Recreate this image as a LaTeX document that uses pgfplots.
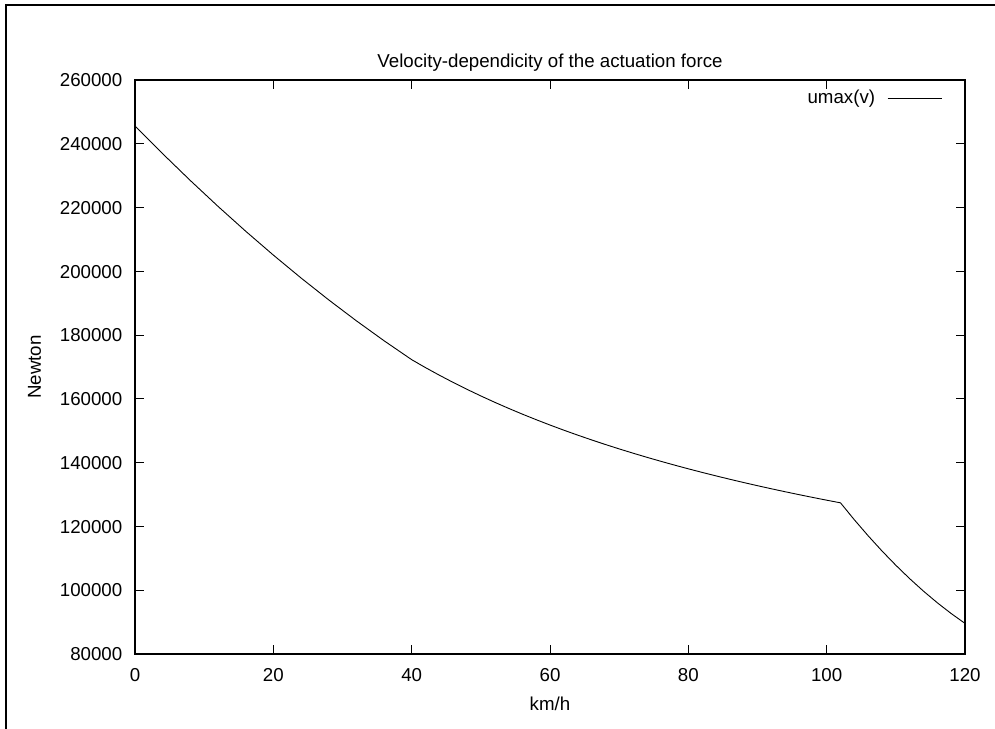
\documentclass[border=0pt]{standalone}
\usepackage{pgfplots}
\pgfplotsset{compat=1.18}
\usepackage{fontspec}
\setmainfont{Liberation Sans}

% Maximum actuation force over speed: three regimes with kinks at 40 and 102 km/h
\pgfplotstableread{
v      F
0      245600
4      236884
8      228476
12     220376
16     212584
20     205100
24     197924
28     191056
32     184496
36     178244
40     172300
42     169806
44     167429
46     165161
48     162995
50     160924
52     158943
54     157044
56     155224
58     153477
60     151799
62     150187
64     148636
66     147143
68     145704
70     144317
72     142980
74     141689
76     140442
78     139236
80     138071
82     136944
84     135852
86     134795
88     133771
90     132777
92     131814
94     130879
96     129972
98     129090
100    128234
102    127402
104    122091
106    117059
108    112303
110    107826
112    103626
114    99703
116    96058
118    92690
120    89599
}\umaxdata

\begin{document}
\fontsize{18.7bp}{22bp}\selectfont
\begin{tikzpicture}
\useasboundingbox (0,0) rectangle (995bp,729bp);
% outer frame of the canvas
\draw[line width=1.6bp] (6bp,-5bp) -- (6bp,724bp) -- (1000bp,724bp);
\begin{axis}[
  at={(135bp,75bp)}, anchor=south west,
  width=830bp, height=574bp, scale only axis,
  xmin=0, xmax=120, ymin=80000, ymax=260000,
  xtick={0,20,...,120},
  ytick={80000,100000,...,260000},
  scaled y ticks=false,
  /pgf/number format/assume math mode=true,
  /pgf/number format/fixed,
  /pgf/number format/precision=0,
  /pgf/number format/1000 sep={},
  tick align=inside,
  major tick length=9bp,
  axis line style={line width=1.2bp},
  every tick/.style={black, line width=1bp},
  xticklabel style={anchor=base, inner sep=0pt, yshift=-28bp},
  yticklabel style={anchor=base east, inner sep=0pt, xshift=-12.5bp, yshift=-6.7bp},
  title={Velocity-dependicity of the actuation force},
  title style={at={(axis description cs:0.5,1)}, anchor=base, inner sep=0pt, yshift=7bp},
  xlabel={km/h},
  xlabel style={at={(axis description cs:0.5,0)}, anchor=base, inner sep=0pt, yshift=-57bp},
  ylabel={Newton},
  ylabel style={at={(axis description cs:0,0.5)}, anchor=base, inner sep=0pt, yshift=94bp},
  legend plot pos=right,
  legend cell align=right,
  legend image code/.code={\draw[#1] (0bp,0bp) -- (54bp,0bp);},
  legend style={draw=none, fill=none, inner sep=0pt, outer sep=0pt,
    at={(rel axis cs:1,1)}, anchor=north east, xshift=-23bp, yshift=-10bp,
    column sep=12bp, nodes={inner sep=0pt}},
]
\addplot[black, line width=0.9bp] table[x=v, y=F] {\umaxdata};
\addlegendentry{umax(v)}
\end{axis}
\end{tikzpicture}
\end{document}
